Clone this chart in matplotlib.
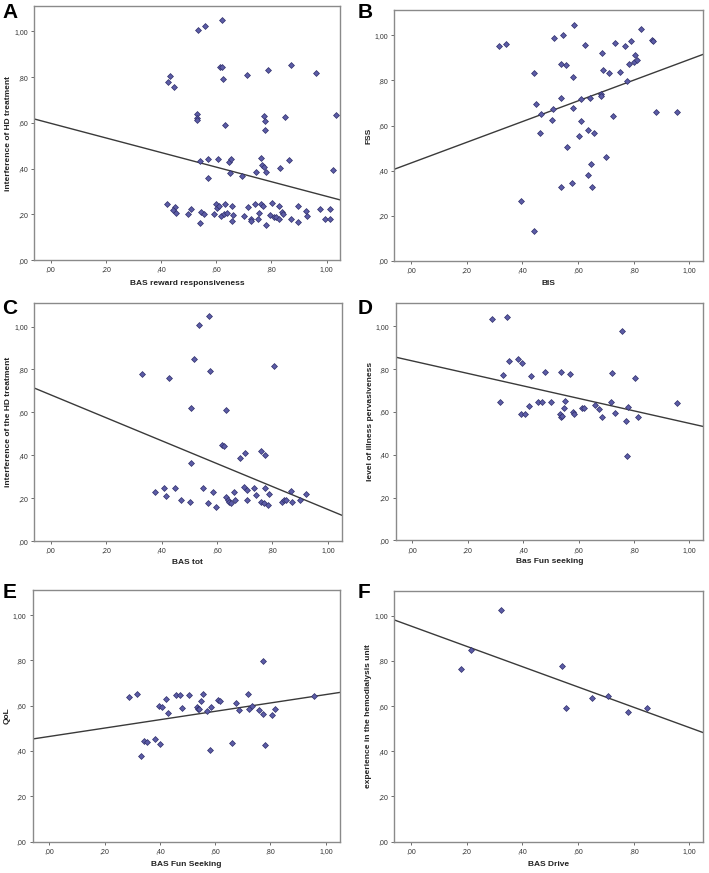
import numpy as np
import matplotlib
matplotlib.use("Agg")
import matplotlib.pyplot as plt
from matplotlib.ticker import FuncFormatter, MultipleLocator

plt.rcParams["font.family"] = ["Liberation Sans", "DejaVu Sans"]

# ---- Panel A: BAS reward responsiveness vs interference of HD treatment
a_x = [0.536, 0.558, 0.621,
       0.427, 0.433, 0.448, 0.613, 0.620, 0.624, 0.710, 0.788, 0.871, 0.963,
       0.532, 0.532, 0.532, 0.631, 0.774, 0.778, 0.778, 0.850, 1.034,
       0.541, 0.570, 0.572, 0.608, 0.647, 0.655, 0.649, 0.694, 0.746, 0.762,
       0.766, 0.773, 0.780, 0.831, 0.863, 1.022,
       0.421, 0.450, 0.445, 0.456, 0.498, 0.510, 0.546, 0.543, 0.555, 0.594,
       0.600, 0.604, 0.611, 0.619, 0.631, 0.630, 0.640, 0.656, 0.661, 0.658,
       0.702, 0.714, 0.726, 0.726, 0.739, 0.750, 0.757, 0.763, 0.770, 0.779,
       0.796, 0.804, 0.808, 0.818, 0.826, 0.829, 0.837, 0.842, 0.872, 0.896,
       0.898, 0.926, 0.928, 0.976, 0.994, 1.012, 1.012]
a_y = [1.006, 1.023, 1.050,
       0.778, 0.803, 0.757, 0.846, 0.846, 0.792, 0.807, 0.833, 0.854, 0.816,
       0.637, 0.621, 0.611, 0.591, 0.629, 0.610, 0.569, 0.626, 0.635,
       0.433, 0.442, 0.361, 0.442, 0.427, 0.442, 0.379, 0.368, 0.385, 0.446,
       0.414, 0.409, 0.385, 0.401, 0.439, 0.395,
       0.246, 0.231, 0.219, 0.208, 0.202, 0.224, 0.211, 0.161, 0.202, 0.202,
       0.246, 0.227, 0.237, 0.193, 0.246, 0.202, 0.208, 0.237, 0.196, 0.172,
       0.193, 0.231, 0.181, 0.172, 0.246, 0.178, 0.208, 0.246, 0.237, 0.155,
       0.196, 0.251, 0.190, 0.187, 0.237, 0.181, 0.211, 0.202, 0.178, 0.237,
       0.167, 0.216, 0.193, 0.222, 0.178, 0.222, 0.178]

# ---- Panel B: BIS vs FSS
b_x = [0.315, 0.340, 0.442, 0.448, 0.468, 0.462, 0.394, 0.442, 0.513, 0.546,
       0.587, 0.538, 0.558, 0.582, 0.540, 0.511, 0.508, 0.581, 0.612, 0.611,
       0.559, 0.603, 0.635, 0.658, 0.540, 0.577, 0.635, 0.645, 0.651, 0.625,
       0.687, 0.691, 0.713, 0.643, 0.682, 0.683, 0.726, 0.701, 0.732, 0.768,
       0.789, 0.750, 0.777, 0.783, 0.804, 0.802, 0.813, 0.827, 0.867, 0.868,
       0.881, 0.956]
b_y = [0.954, 0.960, 0.832, 0.696, 0.652, 0.565, 0.264, 0.134, 0.988, 1.001,
       1.046, 0.873, 0.869, 0.817, 0.723, 0.673, 0.625, 0.680, 0.717, 0.622,
       0.507, 0.552, 0.581, 0.568, 0.329, 0.345, 0.383, 0.431, 0.330, 0.959,
       0.922, 0.847, 0.832, 0.723, 0.739, 0.733, 0.642, 0.459, 0.965, 0.951,
       0.975, 0.839, 0.796, 0.873, 0.913, 0.882, 0.891, 1.028, 0.979, 0.976,
       0.662, 0.662]

# ---- Panel C: BAS tot vs interference of the HD treatment
c_x = [0.330, 0.427, 0.517, 0.535, 0.570, 0.573, 0.508, 0.631, 0.507, 0.619,
       0.627, 0.684, 0.702, 0.757, 0.772, 0.807,
       0.376, 0.408, 0.415, 0.448, 0.469, 0.501, 0.551, 0.569, 0.584, 0.595,
       0.634, 0.639, 0.643, 0.649, 0.660, 0.665, 0.699, 0.708, 0.708, 0.735,
       0.742, 0.757, 0.769, 0.773, 0.783, 0.786, 0.834, 0.841, 0.848, 0.867,
       0.870, 0.901, 0.920]
c_y = [0.781, 0.759, 0.848, 1.006, 1.051, 0.793, 0.622, 0.611, 0.364, 0.449,
       0.443, 0.386, 0.409, 0.421, 0.401, 0.818,
       0.229, 0.247, 0.213, 0.247, 0.194, 0.182, 0.247, 0.176, 0.229, 0.160,
       0.207, 0.194, 0.182, 0.176, 0.229, 0.191, 0.254, 0.241, 0.194, 0.247,
       0.216, 0.185, 0.179, 0.247, 0.170, 0.222, 0.182, 0.194, 0.191, 0.235,
       0.182, 0.194, 0.222]

# ---- Panel D: Bas Fun seeking vs level of illness pervasiveness
d_x = [0.287, 0.342, 0.757, 0.349, 0.382, 0.395, 0.329, 0.430, 0.479, 0.537,
       0.568, 0.720, 0.804, 0.315, 0.774,
       0.421, 0.455, 0.468, 0.502, 0.552, 0.549, 0.611, 0.619, 0.658, 0.716,
       0.777, 0.954, 0.394, 0.408, 0.532, 0.537, 0.540, 0.579, 0.583, 0.675,
       0.685, 0.732, 0.813, 0.770]
d_y = [1.036, 1.044, 0.978, 0.838, 0.850, 0.830, 0.774, 0.768, 0.788, 0.785,
       0.776, 0.783, 0.757, 0.648, 0.393,
       0.629, 0.646, 0.646, 0.646, 0.650, 0.620, 0.621, 0.617, 0.631, 0.648,
       0.623, 0.642, 0.593, 0.592, 0.589, 0.579, 0.583, 0.600, 0.592, 0.612,
       0.578, 0.597, 0.579, 0.559]

# ---- Panel E: BAS Fun Seeking vs QoL
e_x = [0.289, 0.317, 0.331, 0.343, 0.352, 0.383, 0.398, 0.399, 0.408, 0.424,
       0.431, 0.460, 0.472, 0.481, 0.504, 0.536, 0.537, 0.543, 0.549, 0.555,
       0.571, 0.581, 0.586, 0.612, 0.619, 0.661, 0.676, 0.688, 0.717, 0.723,
       0.734, 0.760, 0.773, 0.772, 0.780, 0.807, 0.816, 0.958]
e_y = [0.637, 0.650, 0.376, 0.446, 0.441, 0.451, 0.597, 0.431, 0.594, 0.631,
       0.569, 0.649, 0.649, 0.588, 0.649, 0.593, 0.585, 0.584, 0.622, 0.653,
       0.578, 0.403, 0.594, 0.624, 0.619, 0.434, 0.613, 0.581, 0.650, 0.585,
       0.599, 0.581, 0.796, 0.562, 0.426, 0.559, 0.584, 0.644]

# ---- Panel F: BAS Drive vs experience in the hemodialysis unit
f_x = [0.180, 0.216, 0.322, 0.541, 0.556, 0.649, 0.707, 0.779, 0.846]
f_y = [0.766, 0.847, 1.028, 0.779, 0.591, 0.638, 0.646, 0.574, 0.593]

# fit lines: (intercept, slope)
fits = [(0.598, -0.319), (0.434, 0.459), (0.682, -0.534),
        (0.839, -0.292), (0.464, 0.185), (0.955, -0.450)]

letters = ["A", "B", "C", "D", "E", "F"]
xlabels = ["BAS reward responsiveness", "BIS", "BAS tot",
           "Bas Fun seeking", "BAS Fun Seeking", "BAS Drive"]
ylabels = ["interference of HD treatment", "FSS",
           "interference of the HD treatment",
           "level of illness pervasiveness", "QoL",
           "experience in the hemodialysis unit"]
xs = [a_x, b_x, c_x, d_x, e_x, f_x]
ys = [a_y, b_y, c_y, d_y, e_y, f_y]

# axes rectangles in figure fractions
rects = [
    (0.048, 0.702, 0.432, 0.291),
    (0.556, 0.701, 0.436, 0.287),
    (0.048, 0.380, 0.434, 0.273),
    (0.558, 0.381, 0.434, 0.272),
    (0.046, 0.036, 0.433, 0.288),
    (0.556, 0.036, 0.436, 0.287),
]
letter_pos = [(0.003, 0.997), (0.504, 0.997), (0.003, 0.657),
              (0.504, 0.657), (0.003, 0.332), (0.504, 0.332)]


def spss_fmt(v, pos):
    s = f"{v:.2f}".replace(".", ",")
    if s.startswith("0"):
        s = s[1:]
    return s


fig = plt.figure(figsize=(7.09, 8.73), dpi=100)
fig.patch.set_facecolor("white")

for i in range(6):
    ax = fig.add_axes(rects[i])
    ax.set_xlim(-0.06, 1.05)
    ax.set_ylim(0, 1.11)
    ax.scatter(xs[i], ys[i], marker="D", s=9, facecolor="#5c5ca6",
               edgecolor="#2f2f6a", linewidth=0.5, zorder=3)
    b0, b1 = fits[i]
    lx = np.array([-0.06, 1.05])
    ax.plot(lx, b0 + b1 * lx, color="#3a3a3a", lw=1.0, zorder=2)

    ax.xaxis.set_major_locator(MultipleLocator(0.2))
    ax.yaxis.set_major_locator(MultipleLocator(0.2))
    ax.xaxis.set_major_formatter(FuncFormatter(spss_fmt))
    ax.yaxis.set_major_formatter(FuncFormatter(spss_fmt))
    ax.tick_params(axis="both", labelsize=5, length=2.5, width=0.6,
                   color="#555555", labelcolor="#333333", pad=2)
    for sp in ax.spines.values():
        sp.set_color("#8a8a8a")
        sp.set_linewidth(1.0)
    ax.set_xlabel(xlabels[i], fontsize=6, fontweight="bold", va="center",
                  color="#222222")
    ax.set_ylabel(ylabels[i], fontsize=6, fontweight="bold", va="center",
                  color="#222222")
    ax.xaxis.set_label_coords(0.5, -0.09)
    ax.yaxis.set_label_coords(-0.082, 0.5)
    fig.text(letter_pos[i][0], letter_pos[i][1], letters[i], fontsize=15,
             fontweight="bold", ha="left", va="top")

fig.savefig("out.png", dpi=100, facecolor="white")
